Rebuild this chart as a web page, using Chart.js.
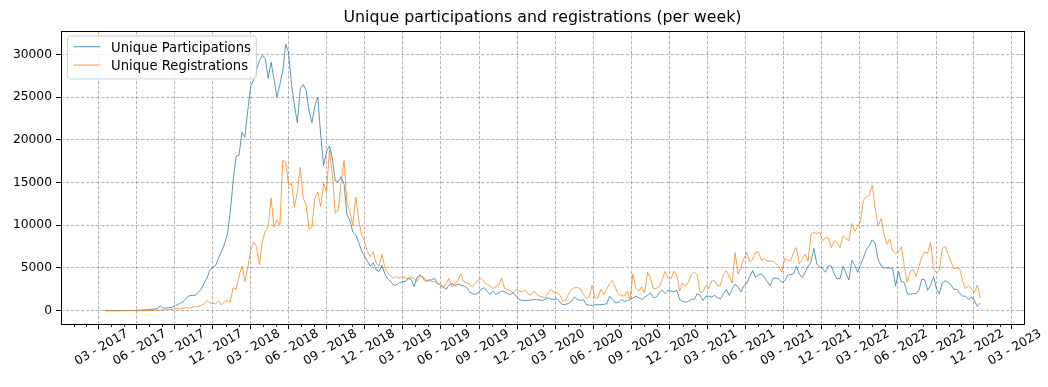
<!DOCTYPE html>
<html>
<head>
<meta charset="utf-8">
<script src="https://cdn.jsdelivr.net/npm/chart.js@4.4.1/dist/chart.umd.min.js"></script>
<style>
html,body{margin:0;padding:0;background:#ffffff;}
#wrap{width:1048px;height:387px;position:relative;}
</style>
</head>
<body>
<div id="wrap"><canvas id="c" width="1048" height="387"></canvas></div>
<script>
// ---------------- data ----------------
const chartTitle = 'Unique participations and registrations (per week)';
const seriesNames = ['Unique Participations', 'Unique Registrations'];
const firstWeek = '2017-03-17'; // weekly series, one value per week from this date

const participations = [
  0,0,0,0,0,10,10,10,20,20,
  30,40,60,80,100,120,150,180,250,550,
  300,320,350,380,600,700,900,1100,1500,1750,
  1800,1800,2100,2500,3200,3800,4700,5100,5300,6200,
  6900,7800,8900,11500,15200,18100,18200,20900,20300,23400,
  26300,27000,28200,29300,29900,29500,27200,29100,27100,25000,
  26500,28100,31200,30200,26500,24000,22000,26000,26500,25800,
  23400,22000,24000,25000,20500,17000,18600,19300,17800,15200,
  15100,15700,14800,11200,10600,9200,8900,8000,7000,6400,
  5800,5200,5600,4800,4600,5300,4300,3700,3400,3000,
  3000,3300,3400,3400,3800,3700,2800,3900,4200,3800,
  3400,3600,3600,3800,3200,3000,2800,2500,3000,3200,
  2900,3100,3000,2900,2700,2200,2000,1900,2100,2500,
  2700,2300,1900,2300,1900,2100,2300,2200,2000,1900,
  2100,1700,1300,1200,1200,1200,1250,1300,1300,1250,
  1200,1350,1500,1350,1300,1400,1000,700,750,850,
  1100,1600,1300,1200,1300,700,650,600,700,700,
  700,750,800,1700,1300,900,1000,1300,1100,1150,
  1300,1500,1700,1500,1300,1600,1800,2100,1500,1600,
  2100,2400,2000,2400,2300,2200,2400,1300,1100,1000,
  1100,1300,1300,2000,1800,1200,1700,1700,1600,1800,
  1500,1400,2000,2500,1800,2500,3100,2800,2200,2900,
  3200,4000,4700,3900,4200,4300,3900,3400,2900,3800,
  3800,3700,3300,3500,4150,4250,4300,5200,4300,3900,
  4500,5200,5700,7300,5500,5100,4900,4500,5300,5200,
  4300,3700,3800,5200,4400,3600,5900,5300,4500,5400,
  6200,7200,7600,8300,7900,6000,5300,5000,5000,5000,
  4900,2900,4600,3400,3300,2000,1900,2000,2000,2400,
  3700,3600,2400,3000,4000,2600,2000,3300,3500,3300,
  3000,2500,2500,2000,1700,1700,1300,1600,1200,500,
  900
];

const registrations = [
  0,0,0,0,0,0,0,0,0,0,
  0,0,0,0,20,30,40,50,60,80,
  100,100,120,150,200,250,200,300,350,300,
  400,450,500,600,800,1200,900,850,800,1100,
  700,1000,1200,1000,2700,2500,4000,5200,3400,5000,
  7000,8000,7500,5400,8100,9300,9800,13200,9800,10600,
  10000,17600,17400,14700,14900,12200,13900,16800,13200,12400,
  9500,9800,13200,13900,12200,14900,13900,18800,15900,11400,
  11800,15100,17600,12500,11600,10000,13300,10700,8900,8100,
  6900,6300,6900,5600,5200,6600,5000,4400,4100,3800,
  4000,3800,4000,3800,3700,4000,3700,3400,4000,4000,
  3600,3500,3400,3400,3200,3000,2700,3200,3800,2800,
  3100,3600,4300,3400,3300,3100,2800,3200,3600,3800,
  3400,3100,2900,2600,2800,3000,3800,2600,2500,2300,
  2100,2500,2300,2200,2400,2000,1800,2300,1900,1700,
  1600,1500,2100,2500,2100,2100,1800,1100,1300,2000,
  2500,2700,2700,2600,1900,1500,1600,3000,1500,1500,
  2500,1900,2500,3200,3500,2700,1900,1800,1700,2300,
  1300,4300,2600,2300,2800,2100,4500,3800,2600,2600,
  2800,3600,4600,3900,3700,4600,4200,2300,3200,2900,
  3300,4200,4500,4200,2100,2200,3000,2600,3500,3500,
  2900,3000,4200,4700,4000,3200,6800,4300,5000,6100,
  6800,5700,6000,6800,6900,5900,6100,5800,5800,5800,
  5500,5200,4500,6100,5900,5800,6800,7400,5500,6000,
  6600,5800,8900,9200,9000,9200,8200,8500,8500,7400,
  8200,8000,7400,8800,8400,8200,10200,9300,9800,10500,
  13000,13300,13500,14700,12000,9900,10800,9000,7800,8400,
  7000,6700,6900,7500,5200,3300,4600,4800,4000,5200,
  6300,6900,6700,8000,5000,4400,4700,7300,7500,6600,
  5800,4900,5000,4900,3400,2600,2900,2600,2100,3000,
  1500
];

const xTickLabels = [
  '03 - 2017','06 - 2017','09 - 2017','12 - 2017',
  '03 - 2018','06 - 2018','09 - 2018','12 - 2018',
  '03 - 2019','06 - 2019','09 - 2019','12 - 2019',
  '03 - 2020','06 - 2020','09 - 2020','12 - 2020',
  '03 - 2021','06 - 2021','09 - 2021','12 - 2021',
  '03 - 2022','06 - 2022','09 - 2022','12 - 2022',
  '03 - 2023'
];
const yTickValues = [0, 5000, 10000, 15000, 20000, 25000, 30000];

// ---------------- helpers ----------------
const DAY_MS = 86400000;
function dayNumber(y, m, d) { return Date.UTC(y, m - 1, d) / DAY_MS; }
const [fy, fm, fd] = firstWeek.split('-').map(Number);
const startDay = dayNumber(fy, fm, fd);
const weekDays = participations.map((_, i) => startDay + 7 * i);
const xTickValues = xTickLabels.map(l => { const p = l.split(' - ').map(Number); return dayNumber(p[1], p[0], 1); });
const labelByValue = {};
xTickValues.forEach((v, i) => labelByValue[v] = xTickLabels[i]);

// matplotlib-like 5% margins
const xFirst = weekDays[0], xLast = weekDays[weekDays.length - 1];
const xPad = 0.05 * (xLast - xFirst);
const xMin = xFirst - xPad, xMax = xLast + xPad;
const allVals = participations.concat(registrations);
const yLo = Math.min(...allVals), yHi = Math.max(...allVals);
const yPad = 0.05 * (yHi - yLo);
const yMin = yLo - yPad, yMax = yHi + yPad;

// monthly minor ticks (positions only)
const minorTickValues = [];
for (let y = 2016; y <= 2023; y++) {
  for (let m = 1; m <= 12; m++) {
    const v = dayNumber(y, m, 1);
    if (v >= xMin && v <= xMax && (m % 3) !== 0) minorTickValues.push(v);
  }
}

const FONT = 'DejaVu Sans';
const COLORS = ['#1f77b4', '#ff7f0e'];
const GRID = 'rgba(128,128,128,0.85)';

const framePlugin = {
  id: 'frame',
  afterDatasetsDraw(chart) {
    const ctx = chart.ctx, a = chart.chartArea, xs = chart.scales.x;
    ctx.save();
    ctx.strokeStyle = '#000';
    ctx.lineWidth = 0.8;
    ctx.beginPath();
    minorTickValues.forEach(v => {
      const px = Math.round(xs.getPixelForValue(v)) + 0.5;
      ctx.moveTo(px, a.bottom);
      ctx.lineTo(px, a.bottom + 3);
    });
    ctx.stroke();
    ctx.lineWidth = 1;
    ctx.strokeStyle = '#000';
    ctx.strokeRect(Math.round(a.left) + 0.5, Math.round(a.top) + 0.5,
                   Math.round(a.right) - Math.round(a.left), Math.round(a.bottom) - Math.round(a.top));
    ctx.restore();
  },
  afterDraw(chart) {
    const ctx = chart.ctx, a = chart.chartArea;
    ctx.save();
    ctx.font = '13.2px "' + FONT + '"';
    const names = chart.data.datasets.map(d => d.label);
    const tw = Math.max(...names.map(n => ctx.measureText(n).width));
    const bx = a.left + 6.5, by = a.top + 5;
    const bw = 43.5 + tw + 5.5, bh = 43;
    const r = 3;
    ctx.beginPath();
    ctx.moveTo(bx + r, by);
    ctx.lineTo(bx + bw - r, by); ctx.arcTo(bx + bw, by, bx + bw, by + r, r);
    ctx.lineTo(bx + bw, by + bh - r); ctx.arcTo(bx + bw, by + bh, bx + bw - r, by + bh, r);
    ctx.lineTo(bx + r, by + bh); ctx.arcTo(bx, by + bh, bx, by + bh - r, r);
    ctx.lineTo(bx, by + r); ctx.arcTo(bx, by, bx + r, by, r);
    ctx.closePath();
    ctx.fillStyle = 'rgba(255,255,255,0.8)';
    ctx.fill();
    ctx.strokeStyle = 'rgba(204,204,204,0.9)';
    ctx.lineWidth = 1;
    ctx.stroke();
    chart.data.datasets.forEach((d, i) => {
      const cy = by + 10.8 + i * 18.3;
      ctx.strokeStyle = d.borderColor;
      ctx.lineWidth = 0.8;
      ctx.beginPath();
      ctx.moveTo(bx + 6, cy); ctx.lineTo(bx + 33, cy);
      ctx.stroke();
      ctx.fillStyle = '#000';
      ctx.textBaseline = 'alphabetic';
      ctx.textAlign = 'left';
      ctx.fillText(d.label, bx + 43.5, cy + 5);
    });
    ctx.restore();
  }
};

const chart = new Chart(document.getElementById('c'), {
  type: 'line',
  data: {
    datasets: [
      { label: seriesNames[0], data: participations.map((v, i) => ({ x: weekDays[i], y: v })),
        borderColor: COLORS[0], backgroundColor: COLORS[0], borderWidth: 0.75,
        pointRadius: 0, tension: 0, fill: false, order: 1 },
      { label: seriesNames[1], data: registrations.map((v, i) => ({ x: weekDays[i], y: v })),
        borderColor: COLORS[1], backgroundColor: COLORS[1], borderWidth: 0.75,
        pointRadius: 0, tension: 0, fill: false, order: 0 }
    ]
  },
  options: {
    responsive: false,
    animation: false,
    devicePixelRatio: 1,
    events: [],
    layout: { padding: { left: 0, right: 24, top: 0, bottom: 0 } },
    plugins: {
      legend: { display: false },
      tooltip: { enabled: false },
      title: {
        display: true, text: chartTitle, fullSize: false,
        color: '#000', font: { family: FONT, size: 15.8, weight: 'normal', lineHeight: 1.2 },
        padding: { top: 8.5, bottom: 3.5 }
      }
    },
    scales: {
      x: {
        type: 'linear', min: xMin, max: xMax,
        afterBuildTicks: s => { s.ticks = xTickValues.map(v => ({ value: v })); },
        afterFit: s => { s.height = 63; },
        ticks: {
          autoSkip: false, minRotation: 30, maxRotation: 30, labelOffset: 29, padding: -2.5,
          color: '#000', font: { family: FONT, size: 12.3 },
          callback: v => labelByValue[v] || ''
        },
        grid: { color: GRID, lineWidth: 0.7, tickLength: 5, tickColor: '#000', tickWidth: 1 },
        border: { display: false, dash: [3.2, 1.8] }
      },
      y: {
        type: 'linear', min: yMin, max: yMax,
        afterBuildTicks: s => { s.ticks = yTickValues.map(v => ({ value: v })); },
        afterFit: s => { s.width = 61; },
        ticks: { color: '#000', font: { family: FONT, size: 12.3 }, padding: 4, callback: v => String(v) },
        grid: { color: GRID, lineWidth: 0.7, tickLength: 5, tickColor: '#000', tickWidth: 1 },
        border: { display: false, dash: [3.2, 1.8] }
      }
    }
  },
  plugins: [framePlugin]
});
</script>
</body>
</html>
